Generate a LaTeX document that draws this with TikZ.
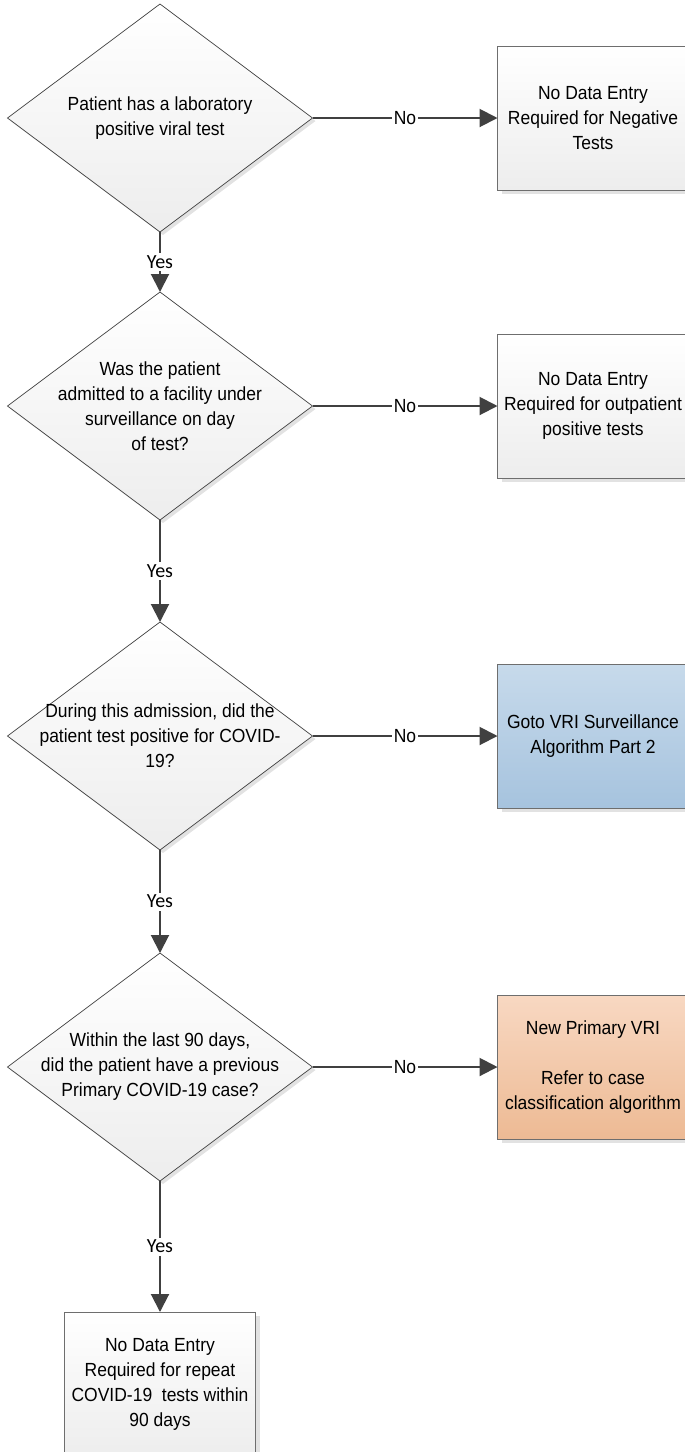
\documentclass[tikz,border=0pt]{standalone}
\usepackage{tikz}
\usepackage{xcolor}
\usepackage{fontspec}
\usetikzlibrary{shapes.geometric,arrows.meta,shadows}
\newfontfamily\narrowfont{Liberation Sans}[FakeStretch=0.92]
\newfontfamily\yesfont{Carlito}
\definecolor{linegray}{HTML}{404040}
\definecolor{edgegray}{HTML}{6E6E6E}
\definecolor{shadegray}{HTML}{E2E2E2}
\definecolor{boxbottom}{HTML}{EDEDED}
\definecolor{bluetop}{HTML}{C7DAEB}
\definecolor{bluebottom}{HTML}{A6C3DE}
\definecolor{orangetop}{HTML}{F8D8C2}
\definecolor{orangebottom}{HTML}{EDBA94}

\begin{document}
\begin{tikzpicture}[x=1pt,y=-1pt]
\tikzstyle{every node}+=[inner sep=0pt,outer sep=0pt]
\tikzstyle{decision}=[diamond,draw=linegray,line width=0.7pt,minimum width=305pt,minimum height=228pt,top color=white,bottom color=boxbottom,drop shadow={shadow xshift=3pt,shadow yshift=-3pt,fill=shadegray,opacity=1}]
\tikzstyle{qtext}=[align=center,font=\narrowfont\fontsize{19}{25}\selectfont]
\tikzstyle{result}=[rectangle,draw=edgegray,line width=1pt,minimum width=191pt,minimum height=144pt,align=center,font=\narrowfont\fontsize{19}{25}\selectfont,top color=white,bottom color=boxbottom,drop shadow={shadow xshift=4pt,shadow yshift=-4pt,fill=shadegray,opacity=1}]
\tikzstyle{flow}=[draw=linegray,line width=2pt,-{Triangle[length=18pt,width=18pt]}]
\tikzstyle{nolbl}=[fill=white,inner sep=1.5pt,font=\narrowfont\fontsize{19}{25}\selectfont]
\tikzstyle{yeslbl}=[fill=white,inner sep=2.5pt,font=\yesfont\fontsize{20}{24}\selectfont]
\useasboundingbox (0,0) rectangle (685,1452);

\node[decision] (q1) at (160,118) {};
\node[qtext] (q1t) at (q1) {Patient has a laboratory\\positive viral test};
\node[result] (neg) at (593,118) {No Data Entry\\Required for Negative\\Tests};

\node[decision] (q2) at (160,406) {};
\node[qtext] (q2t) at (q2) {Was the patient\\admitted to a facility under\\surveillance on day\\of test?};
\node[result] (outp) at (593,406) {No Data Entry\\Required for outpatient\\positive tests};

\node[decision] (q3) at (160,736) {};
\node[qtext] (q3t) at (q3) {During this admission, did the\\patient test positive for COVID-\\19?};
\node[result,top color=bluetop,bottom color=bluebottom] (vri) at (593,736) {Goto VRI Surveillance\\Algorithm Part 2};

\node[decision] (q4) at (160,1067) {};
\node[qtext] (q4t) at (q4) {Within the last 90 days,\\did the patient have a previous\\Primary COVID-19 case?};
\node[result,top color=orangetop,bottom color=orangebottom] (newvri) at (593,1067) {New Primary VRI\\[25pt]Refer to case\\classification algorithm};

\node[result] (rep) at (160,1384) {No Data Entry\\Required for repeat\\COVID-19\ \ tests within\\90 days};

\draw[flow] (q1.east) -- node[nolbl] {No} (neg.west);
\draw[flow] (q2.east) -- node[nolbl] {No} (outp.west);
\draw[flow] (q3.east) -- node[nolbl] {No} (vri.west);
\draw[flow] (q4.east) -- node[nolbl] {No} (newvri.west);
\draw[flow] (q1.south) -- node[yeslbl] {Yes} (q2.north);
\draw[flow] (q2.south) -- node[yeslbl] {Yes} (q3.north);
\draw[flow] (q3.south) -- node[yeslbl] {Yes} (q4.north);
\draw[flow] (q4.south) -- node[yeslbl] {Yes} (rep.north);
\end{tikzpicture}
\end{document}
